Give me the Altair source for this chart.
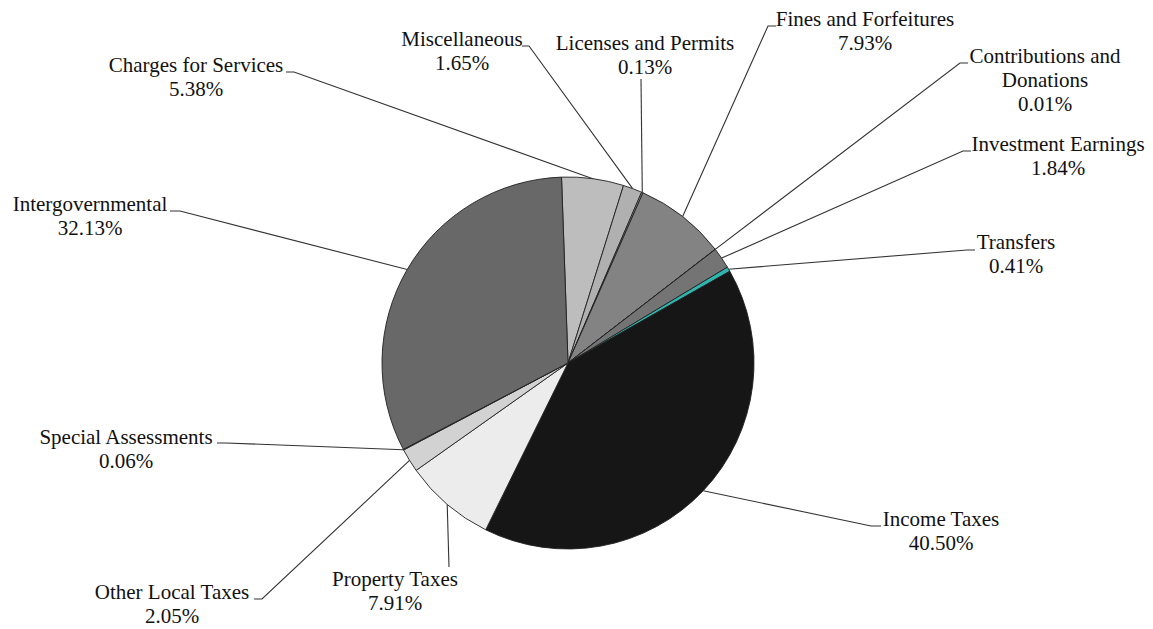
import math
import altair as alt
import pandas as pd

# ---------------- data ----------------
categories = [
    "Charges for Services", "Miscellaneous", "Licenses and Permits",
    "Fines and Forfeitures", "Contributions and Donations", "Investment Earnings",
    "Transfers", "Income Taxes", "Property Taxes", "Other Local Taxes",
    "Special Assessments", "Intergovernmental",
]
shares = [5.38, 1.65, 0.13, 7.93, 0.01, 1.84, 0.41, 40.50, 7.91, 2.05, 0.06, 32.13]
name_lines = [
    ["Charges for Services"], ["Miscellaneous"], ["Licenses and Permits"],
    ["Fines and Forfeitures"], ["Contributions and", "Donations"], ["Investment Earnings"],
    ["Transfers"], ["Income Taxes"], ["Property Taxes"], ["Other Local Taxes"],
    ["Special Assessments"], ["Intergovernmental"],
]

# ---------------- styles / layout ----------------
fills = ["#bdbdbd", "#b0b0b0", "#9a9a9a", "#838383", "#999999", "#747474",
         "#2fb5ae", "#161616", "#ececec", "#d2d2d2", "#bbbbbb", "#686868"]

# label block: centre x, first-line y (page pixels)
label_pos = [
    (196, 66), (462, 40), (645, 44), (865, 20), (1045, 57), (1058, 145),
    (1016, 243), (941, 520), (395, 580), (172, 593), (126, 438), (90, 205),
]
# leader anchors near the labels (one or two points before the slice edge)
leader_anchor = [
    [(286, 72), (294, 72)],
    [(522, 46), (529, 46)],
    [(641, 79)],
    [(776, 26), (768, 26)],
    [(968, 63), (960, 63)],
    [(971, 151), (963, 151)],
    [(975, 250), (967, 250)],
    [(881, 526), (871, 526)],
    [(449, 567)],
    [(254, 599), (262, 599)],
    [(217, 443), (226, 443)],
    [(170, 211), (180, 211)],
]

W, H = 1137, 621
CX, CY, R = 568, 363, 186
ROT = -2.0  # degrees
LINE_H = 24
FONT = "'Liberation Serif', 'Times New Roman', Times, serif"

xs = alt.Scale(domain=[8, 8 + W], nice=False, zero=False)
ys = alt.Scale(domain=[8 + H, 8], nice=False, zero=False)

# ---------------- tables ----------------
pie_df = pd.DataFrame({"cat": categories, "share": shares, "idx": range(len(categories))})

rows_lines = []
cum = 0.0
for i, (c, s) in enumerate(zip(categories, shares)):
    mid = math.radians(ROT + 360.0 * (cum + s / 2.0) / 100.0)
    cum += s
    ex, ey = CX + R * math.sin(mid), CY - R * math.cos(mid)
    pts = leader_anchor[i] + [(ex, ey)]
    for k, (px, py) in enumerate(pts):
        rows_lines.append({"cat": c, "seq": k, "x": px, "y": py})
lines_df = pd.DataFrame(rows_lines)

rows_text = []
for i, c in enumerate(categories):
    txt = name_lines[i] + [f"{shares[i]:.2f}%"]
    lx, ly = label_pos[i]
    for k, t in enumerate(txt):
        rows_text.append({"cat": c, "t": t, "x": lx, "y": ly + k * LINE_H})
text_df = pd.DataFrame(rows_text)

# ---------------- chart ----------------
pie = alt.Chart(pie_df).mark_arc(radius=R, stroke="#202020", strokeWidth=0.9).encode(
    theta=alt.Theta("share:Q", stack=True,
                    scale=alt.Scale(range=[math.radians(ROT), math.radians(ROT) + 2 * math.pi])),
    color=alt.Color("cat:N", scale=alt.Scale(domain=categories, range=fills), legend=None),
    order=alt.Order("idx:Q"),
    x=alt.XDatum(CX, type="quantitative", scale=xs, axis=None),
    y=alt.YDatum(CY, type="quantitative", scale=ys, axis=None),
)

leaders = alt.Chart(lines_df).mark_line(color="#333333", strokeWidth=1.1).encode(
    x=alt.X("x:Q", scale=xs, axis=None),
    y=alt.Y("y:Q", scale=ys, axis=None),
    detail="cat:N",
    order="seq:Q",
)

labels = alt.Chart(text_df).mark_text(
    font=FONT, fontSize=21, color="#111111", align="center", baseline="middle"
).encode(
    x=alt.X("x:Q", scale=xs, axis=None),
    y=alt.Y("y:Q", scale=ys, axis=None),
    text="t:N",
)

chart = alt.layer(pie, leaders, labels).properties(
    width=W, height=H, padding=0, autosize=alt.AutoSizeParams(type="none"),
    background="white",
).configure_view(stroke=None)

chart.save("out.html", embed_options={"renderer": "svg", "actions": False})
